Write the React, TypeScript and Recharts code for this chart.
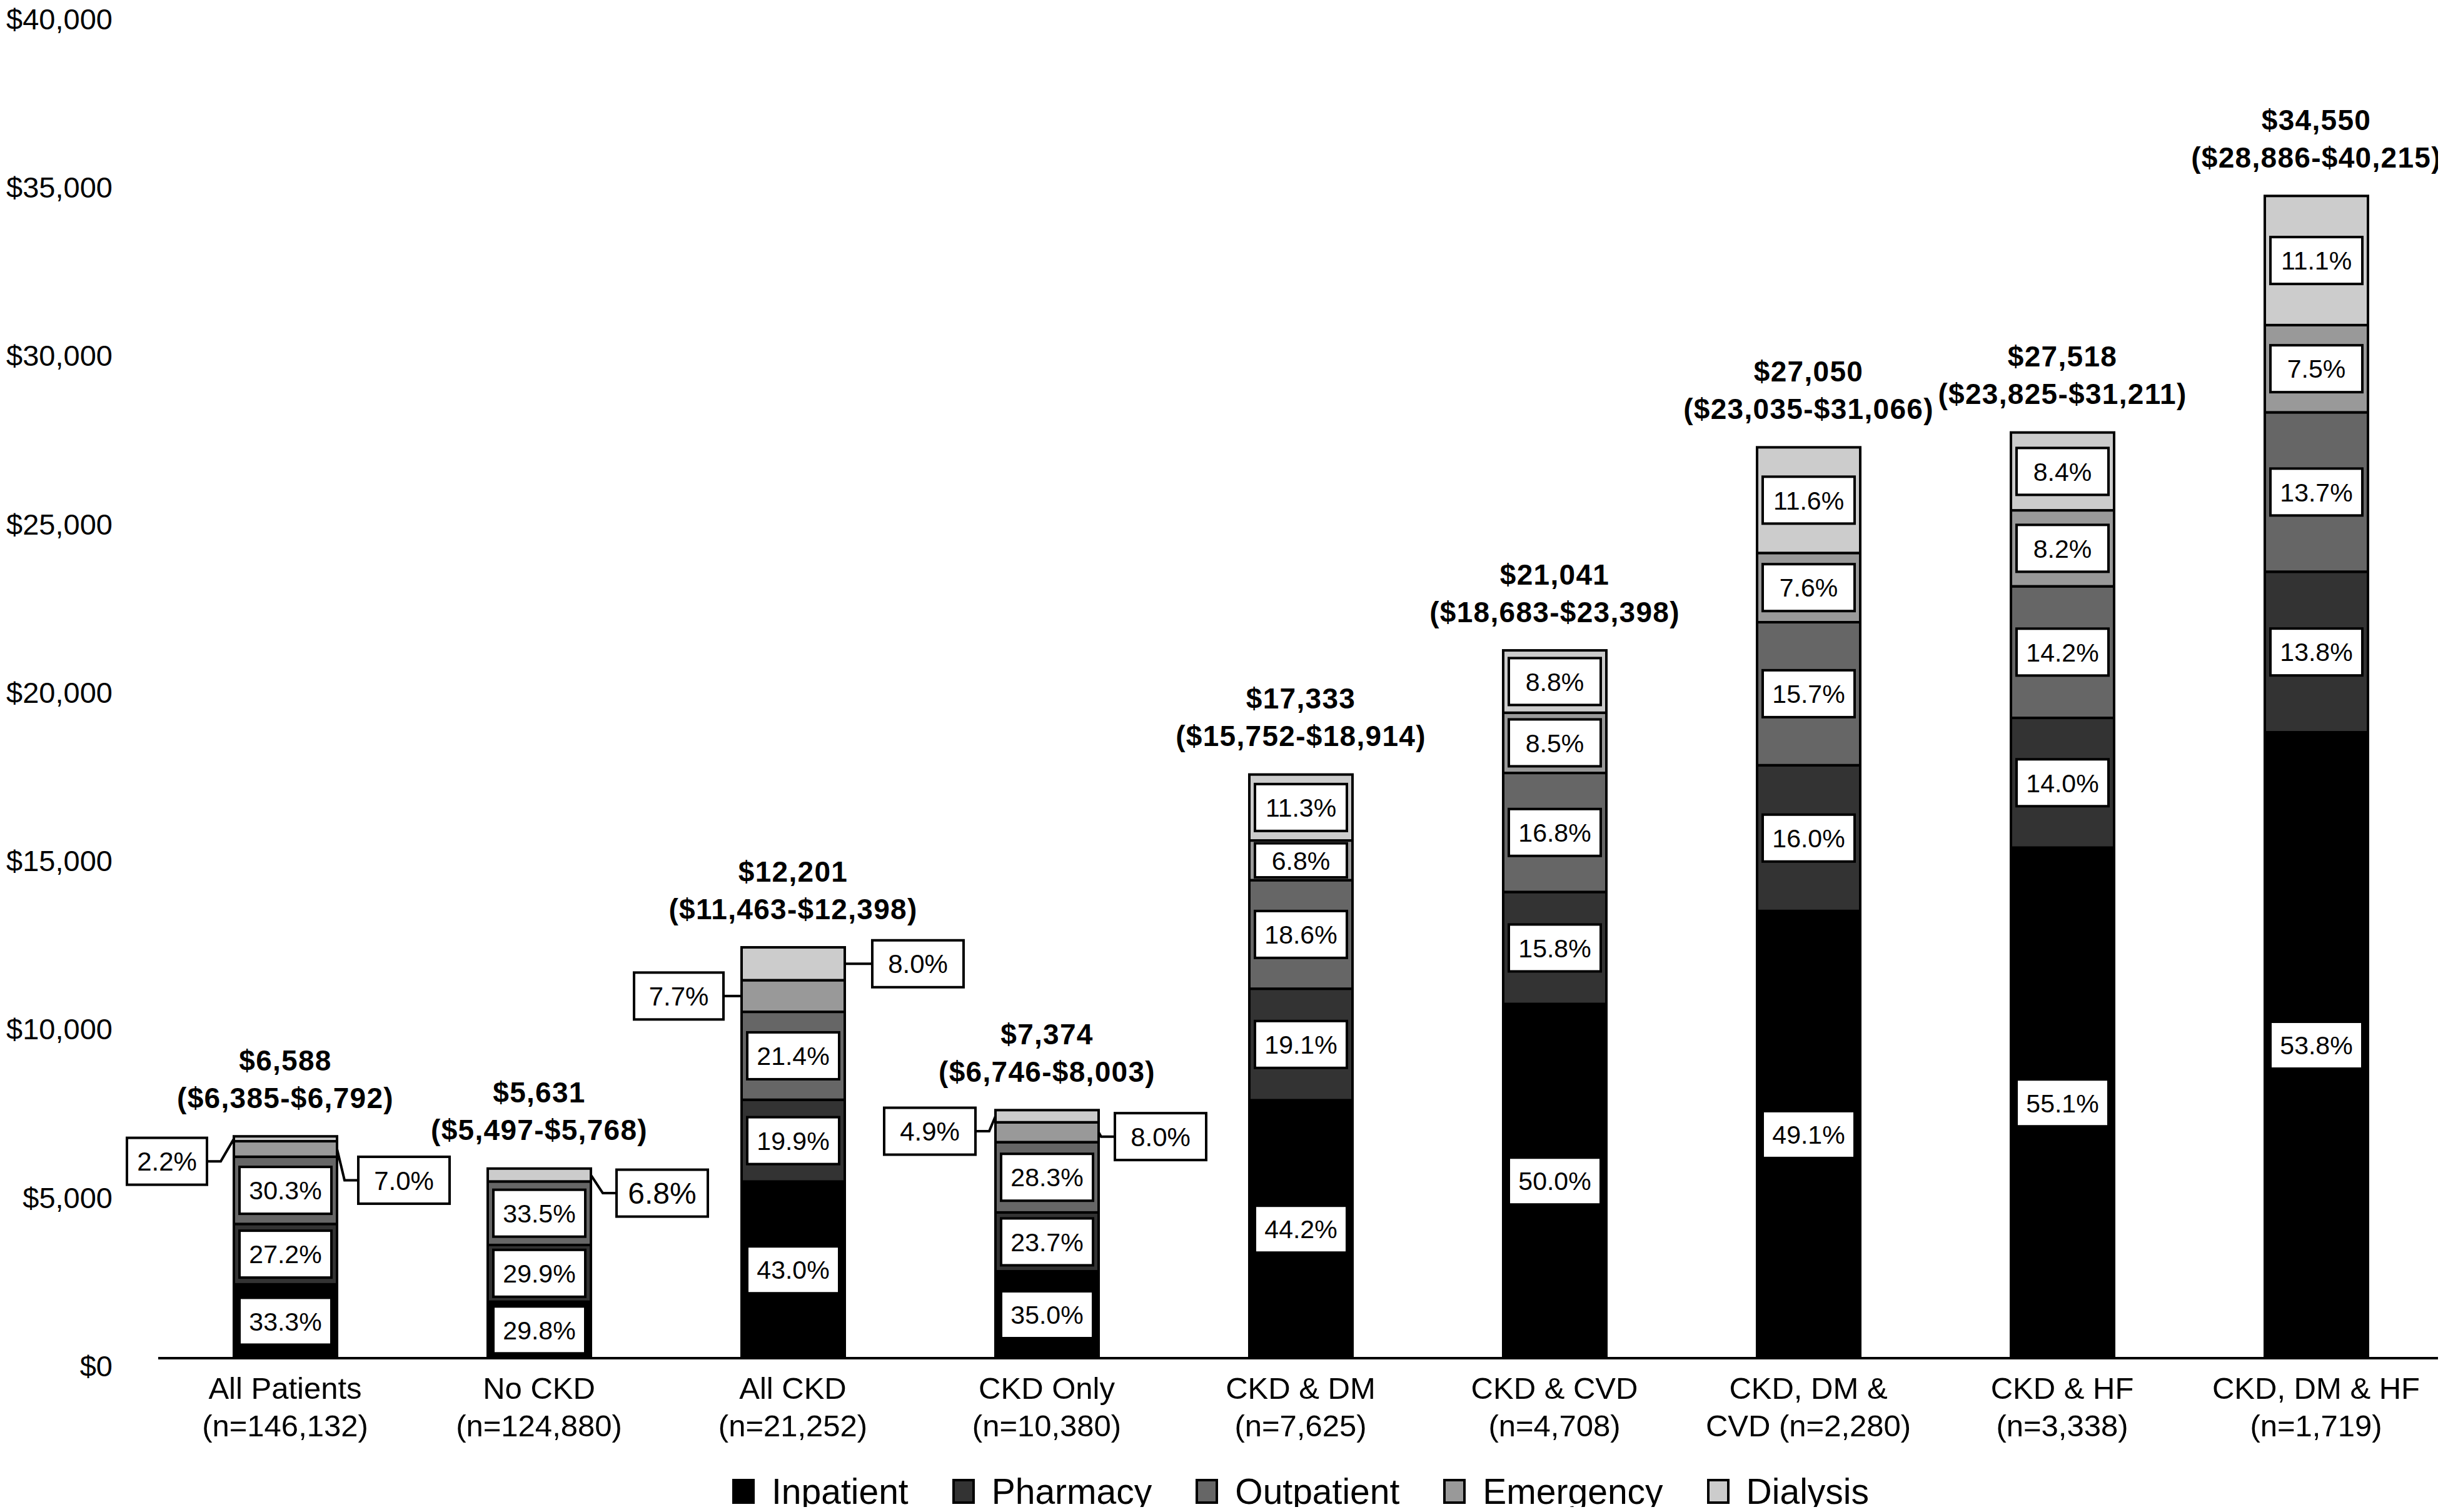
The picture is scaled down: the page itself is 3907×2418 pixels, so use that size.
import React from 'react';
import { BarChart, Bar, XAxis, YAxis, Legend } from 'recharts';

// ---------- data ----------
const categories = [
  'All Patients', 'No CKD', 'All CKD', 'CKD Only', 'CKD & DM',
  'CKD & CVD', 'CKD, DM & CVD', 'CKD & HF', 'CKD, DM & HF',
];
const tickLine1 = [
  'All Patients', 'No CKD', 'All CKD', 'CKD Only', 'CKD & DM',
  'CKD & CVD', 'CKD, DM &', 'CKD & HF', 'CKD, DM & HF',
];
const tickLine2 = [
  '(n=146,132)', '(n=124,880)', '(n=21,252)', '(n=10,380)', '(n=7,625)',
  '(n=4,708)', 'CVD (n=2,280)', '(n=3,338)', '(n=1,719)',
];
const totals = [6588, 5631, 12201, 7374, 17333, 21041, 27050, 27518, 34550];
const totalLabels = [
  '$6,588', '$5,631', '$12,201', '$7,374', '$17,333',
  '$21,041', '$27,050', '$27,518', '$34,550',
];
const ciLabels = [
  '($6,385-$6,792)', '($5,497-$5,768)', '($11,463-$12,398)', '($6,746-$8,003)',
  '($15,752-$18,914)', '($18,683-$23,398)', '($23,035-$31,066)',
  '($23,825-$31,211)', '($28,886-$40,215)',
];
const inpatientPct = [33.3, 29.8, 43.0, 35.0, 44.2, 50.0, 49.1, 55.1, 53.8];
const pharmacyPct = [27.2, 29.9, 19.9, 23.7, 19.1, 15.8, 16.0, 14.0, 13.8];
const outpatientPct = [30.3, 33.5, 21.4, 28.3, 18.6, 16.8, 15.7, 14.2, 13.7];
const emergencyPct = [7.0, 0, 7.7, 8.0, 6.8, 8.5, 7.6, 8.2, 7.5];
const dialysisPct = [2.2, 6.8, 8.0, 4.9, 11.3, 8.8, 11.6, 8.4, 11.1];
const yTicks = [0, 5000, 10000, 15000, 20000, 25000, 30000, 35000, 40000];

const seriesKeys = ['inpatient', 'pharmacy', 'outpatient', 'emergency', 'dialysis'];
const seriesNames = ['Inpatient', 'Pharmacy', 'Outpatient', 'Emergency', 'Dialysis'];
const pctArrays = [inpatientPct, pharmacyPct, outpatientPct, emergencyPct, dialysisPct];

// ---------- styles ----------
const seriesColors = ['#000000', '#333333', '#666666', '#999999', '#cccccc'];
const FONT = '"Liberation Sans", Arial, Helvetica, sans-serif';

// labels drawn outside the bar (placement only)
const outsideLabels: Record<string, { side: 'left' | 'right'; dy: number; gap: number; w?: number; fs?: number }> = {
  'All Patients|dialysis': { side: 'left', dy: 36, gap: 43, w: 128 },
  'All Patients|emergency': { side: 'right', dy: 50, gap: 34 },
  'No CKD|dialysis': { side: 'right', dy: 29, gap: 41, fs: 48 },
  'All CKD|emergency': { side: 'left', dy: 0, gap: 29, w: 143 },
  'All CKD|dialysis': { side: 'right', dy: 0, gap: 44 },
  'CKD Only|dialysis': { side: 'left', dy: 24, gap: 32 },
  'CKD Only|emergency': { side: 'right', dy: 7, gap: 26 },
};

const data = categories.map((name, i) => {
  const row: any = { name, totalLabel: totalLabels[i], ci: ciLabels[i] };
  seriesKeys.forEach((k, s) => {
    row[k] = (totals[i] * pctArrays[s][i]) / 100;
    row[k + 'Pct'] = pctArrays[s][i];
  });
  return row;
});

function makeShape(key: string, color: string, isTop: boolean) {
  return (props: any) => {
    const { x, y, width, height, payload } = props;
    if (!height || height <= 0) return <g />;
    const pct: number = payload[key + 'Pct'];
    const cx = x + width / 2;
    const cy = y + height / 2;
    const cfg = outsideLabels[payload.name + '|' + key];
    let label: any = null;
    if (pct > 0) {
      if (cfg) {
        const bw = cfg.w ?? 146;
        const bh = 75;
        const by = cy + cfg.dy;
        const left = cfg.side === 'left';
        const edgeX = left ? x : x + width;
        const boxX = left ? x - cfg.gap - bw : x + width + cfg.gap;
        const boxEdge = left ? boxX + bw : boxX;
        const kinkX = left ? boxEdge + 22 : boxEdge - 22;
        label = (
          <g>
            <polyline
              points={`${boxEdge},${by} ${kinkX},${by} ${edgeX},${cy}`}
              fill="none"
              stroke="#000"
              strokeWidth={4}
            />
            <rect x={boxX} y={by - bh / 2} width={bw} height={bh} fill="#fff" stroke="#000" strokeWidth={4} />
            <text
              x={boxX + bw / 2}
              y={by}
              dy="0.36em"
              textAnchor="middle"
              fontSize={cfg.fs ?? 42}
              fontFamily={FONT}
              fill="#000"
            >
              {pct.toFixed(1)}%
            </text>
          </g>
        );
      } else {
        const bw = width - 18;
        const bh = Math.min(75, height - 9);
        label = (
          <g>
            <rect x={cx - bw / 2} y={cy - bh / 2} width={bw} height={bh} fill="#fff" stroke="#000" strokeWidth={4} />
            <text x={cx} y={cy} dy="0.36em" textAnchor="middle" fontSize={41} fontFamily={FONT} fill="#000">
              {pct.toFixed(1)}%
            </text>
          </g>
        );
      }
    }
    return (
      <g>
        <rect x={x} y={y} width={width} height={height} fill={color} stroke="#000" strokeWidth={4} />
        {label}
        {isTop && (
          <g fontFamily={FONT} fontWeight="bold" fontSize={46} fill="#000" textAnchor="middle" style={{ letterSpacing: 1.3 }}>
            <text x={cx} y={y - 122} dy="0.36em">{payload.totalLabel}</text>
            <text x={cx} y={y - 62} dy="0.36em">{payload.ci}</text>
          </g>
        )}
      </g>
    );
  };
}

const XTick = (props: any) => {
  const { x, y, payload } = props;
  const i = categories.indexOf(payload.value);
  return (
    <g fontFamily={FONT} fontSize={49} fill="#000">
      <text x={x} y={y + 65} textAnchor="middle">{tickLine1[i]}</text>
      <text x={x} y={y + 125} textAnchor="middle">{tickLine2[i]}</text>
    </g>
  );
};

const YTick = (props: any) => {
  const { x, y, payload } = props;
  return (
    <text x={x - 73} y={y + 12} dy="0.36em" textAnchor="end" fontFamily={FONT} fontSize={47} fill="#000">
      ${Number(payload.value).toLocaleString('en-US')}
    </text>
  );
};

const renderLegend = () => (
  <div
    style={{
      display: 'flex',
      justifyContent: 'center',
      alignItems: 'center',
      fontFamily: FONT,
      fontSize: 57,
      height: 50,
      color: '#000',
    }}
  >
    {seriesNames.map((n, i) => (
      <div key={n} style={{ display: 'flex', alignItems: 'center', marginLeft: i ? 70 : 0 }}>
        <svg width={36} height={40} style={{ display: 'block' }}>
          <rect x={2} y={2} width={32} height={36} fill={seriesColors[i]} stroke="#000" strokeWidth={4} />
        </svg>
        <span style={{ marginLeft: 27, lineHeight: '50px', whiteSpace: 'nowrap' }}>{n}</span>
      </div>
    ))}
  </div>
);

export default function App() {
  return (
    <div style={{ width: 3899, height: 2410, marginTop: -8 }}>
      <BarChart
        width={3899}
        height={2410}
        data={data}
        margin={{ top: 18, right: 0, bottom: 0, left: 0 }}
        barSize={165}
      >
        <XAxis
          dataKey="name"
          interval={0}
          height={238}
          tickLine={false}
          tickSize={0}
          tickMargin={0}
          axisLine={{ stroke: '#000', strokeWidth: 4 }}
          tick={<XTick />}
        />
        <YAxis
          width={245}
          domain={[0, 40000]}
          ticks={yTicks}
          axisLine={false}
          tickLine={false}
          tickSize={0}
          tickMargin={0}
          tick={<YTick />}
        />
        <Legend
          verticalAlign="middle"
          align="center"
          layout="horizontal"
          content={renderLegend}
          wrapperStyle={{ left: 245, width: 3654, top: 2360, height: 50 }}
        />
        {seriesKeys.map((k, s) => (
          <Bar
            key={k}
            dataKey={k}
            name={seriesNames[s]}
            stackId="cost"
            fill={seriesColors[s]}
            isAnimationActive={false}
            shape={makeShape(k, seriesColors[s], s === seriesKeys.length - 1)}
          />
        ))}
      </BarChart>
    </div>
  );
}
